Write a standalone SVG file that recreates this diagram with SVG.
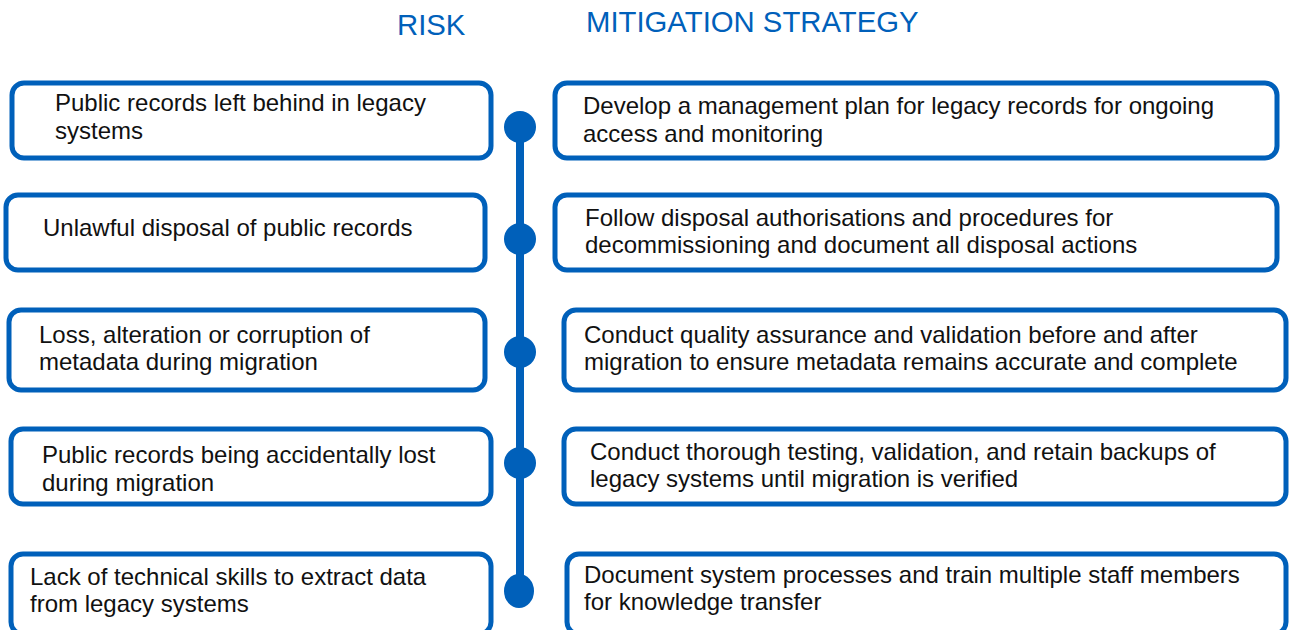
<svg xmlns="http://www.w3.org/2000/svg" width="1292" height="630" viewBox="0 0 1292 630">
<style>
.box{fill:#fff;stroke:#0060BA;stroke-width:5}
.t{font-family:"Liberation Sans",Arial,sans-serif;font-size:24px;fill:#111}
.h{font-family:"Liberation Sans",Arial,sans-serif;font-size:29.3px;fill:#0060BA}
.dot{fill:#0060BA}
</style>
<rect width="1292" height="630" fill="#fff"/>
<g id="headers">
<text class="h" x="397" y="35">RISK</text>
<text class="h" x="586" y="32">MITIGATION STRATEGY</text>
</g>
<g id="connectors">
<line x1="520" y1="127" x2="520" y2="592" stroke="#0060BA" stroke-width="8"/>
<circle class="dot" cx="520" cy="127" r="16"/>
<circle class="dot" cx="520" cy="239" r="16"/>
<circle class="dot" cx="520" cy="352" r="16"/>
<circle class="dot" cx="520" cy="463" r="16"/>
<ellipse class="dot" cx="519" cy="591" rx="15" ry="17"/>
</g>
<g id="risk1"><rect class="box" x="12" y="83" width="479" height="75" rx="12"/>
<text class="t" x="55" y="111">Public records left behind in legacy</text><text class="t" x="55" y="139">systems</text></g>
<g id="risk2"><rect class="box" x="6" y="195" width="479" height="75" rx="12"/>
<text class="t" x="43" y="236">Unlawful disposal of public records</text></g>
<g id="risk3"><rect class="box" x="9" y="310" width="476" height="80" rx="12"/>
<text class="t" x="39" y="343">Loss, alteration or corruption of</text><text class="t" x="39" y="370">metadata during migration</text></g>
<g id="risk4"><rect class="box" x="11" y="429" width="480" height="75" rx="12"/>
<text class="t" x="42" y="463">Public records being accidentally lost</text><text class="t" x="42" y="491">during migration</text></g>
<g id="risk5"><rect class="box" x="11" y="554" width="480" height="80" rx="12"/>
<text class="t" x="30" y="585">Lack of technical skills to extract data</text><text class="t" x="30" y="612">from legacy systems</text></g>
<g id="mit1"><rect class="box" x="555" y="83" width="722" height="75" rx="12"/>
<text class="t" x="583" y="114">Develop a management plan for legacy records for ongoing</text><text class="t" x="583" y="142">access and monitoring</text></g>
<g id="mit2"><rect class="box" x="555" y="195" width="722" height="75" rx="12"/>
<text class="t" x="585" y="226">Follow disposal authorisations and procedures for</text><text class="t" x="585" y="253">decommissioning and document all disposal actions</text></g>
<g id="mit3"><rect class="box" x="564" y="310" width="722" height="80" rx="12"/>
<text class="t" x="584" y="343">Conduct quality assurance and validation before and after</text><text class="t" x="584" y="370">migration to ensure metadata remains accurate and complete</text></g>
<g id="mit4"><rect class="box" x="564" y="429" width="722" height="75" rx="12"/>
<text class="t" x="590" y="460">Conduct thorough testing, validation, and retain backups of</text><text class="t" x="590" y="487">legacy systems until migration is verified</text></g>
<g id="mit5"><rect class="box" x="567" y="554" width="719" height="80" rx="12"/>
<text class="t" x="584" y="583">Document system processes and train multiple staff members</text><text class="t" x="584" y="610">for knowledge transfer</text></g>
</svg>
